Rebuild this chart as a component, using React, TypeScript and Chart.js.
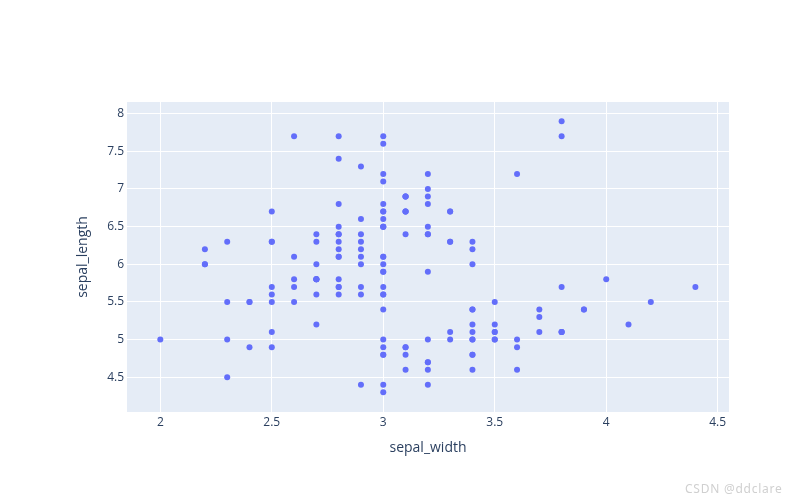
import React, { useEffect, useRef } from "react";
import { Chart, registerables } from "chart.js";

Chart.register(...registerables);

// Iris dataset: sepal width (x) and sepal length (y)
const sepalWidth: number[] = [
  3.5, 3.0, 3.2, 3.1, 3.6, 3.9, 3.4, 3.4, 2.9, 3.1, 3.7, 3.4, 3.0, 3.0, 4.0, 4.4, 3.9, 3.5, 3.8, 3.8,
  3.4, 3.7, 3.6, 3.3, 3.4, 3.0, 3.4, 3.5, 3.4, 3.2, 3.1, 3.4, 4.1, 4.2, 3.1, 3.2, 3.5, 3.6, 3.0, 3.4,
  3.5, 2.3, 3.2, 3.5, 3.8, 3.0, 3.8, 3.2, 3.7, 3.3,
  3.2, 3.2, 3.1, 2.3, 2.8, 2.8, 3.3, 2.4, 2.9, 2.7, 2.0, 3.0, 2.2, 2.9, 2.9, 3.1, 3.0, 2.7, 2.2, 2.5,
  3.2, 2.8, 2.5, 2.8, 2.9, 3.0, 2.8, 3.0, 2.9, 2.6, 2.4, 2.4, 2.7, 2.7, 3.0, 3.4, 3.1, 2.3, 3.0, 2.5,
  2.6, 3.0, 2.6, 2.3, 2.7, 3.0, 2.9, 2.9, 2.5, 2.8,
  3.3, 2.7, 3.0, 2.9, 3.0, 3.0, 2.5, 2.9, 2.5, 3.6, 3.2, 2.7, 3.0, 2.5, 2.8, 3.2, 3.0, 3.8, 2.6, 2.2,
  3.2, 2.8, 2.8, 2.7, 3.3, 3.2, 2.8, 3.0, 2.8, 3.0, 2.8, 3.8, 2.8, 2.8, 2.6, 3.0, 3.4, 3.1, 3.0, 3.1,
  3.1, 3.1, 2.7, 3.2, 3.3, 3.0, 2.5, 3.0, 3.4, 3.0,
];
const sepalLength: number[] = [
  5.1, 4.9, 4.7, 4.6, 5.0, 5.4, 4.6, 5.0, 4.4, 4.9, 5.4, 4.8, 4.8, 4.3, 5.8, 5.7, 5.4, 5.1, 5.7, 5.1,
  5.4, 5.1, 4.6, 5.1, 4.8, 5.0, 5.0, 5.2, 5.2, 4.7, 4.8, 5.4, 5.2, 5.5, 4.9, 5.0, 5.5, 4.9, 4.4, 5.1,
  5.0, 4.5, 4.4, 5.0, 5.1, 4.8, 5.1, 4.6, 5.3, 5.0,
  7.0, 6.4, 6.9, 5.5, 6.5, 5.7, 6.3, 4.9, 6.6, 5.2, 5.0, 5.9, 6.0, 6.1, 5.6, 6.7, 5.6, 5.8, 6.2, 5.6,
  5.9, 6.1, 6.3, 6.1, 6.4, 6.6, 6.8, 6.7, 6.0, 5.7, 5.5, 5.5, 5.8, 6.0, 5.4, 6.0, 6.7, 6.3, 5.6, 5.5,
  5.5, 6.1, 5.8, 5.0, 5.6, 5.7, 5.7, 6.2, 5.1, 5.7,
  6.3, 5.8, 7.1, 6.3, 6.5, 7.6, 4.9, 7.3, 6.7, 7.2, 6.5, 6.4, 6.8, 5.7, 5.8, 6.4, 6.5, 7.7, 7.7, 6.0,
  6.9, 5.6, 7.7, 6.3, 6.7, 7.2, 6.2, 6.1, 6.4, 7.2, 7.4, 7.9, 6.4, 6.3, 6.1, 7.7, 6.3, 6.4, 6.0, 6.9,
  6.7, 6.9, 5.8, 6.8, 6.7, 6.7, 6.3, 6.5, 6.2, 5.9,
];

const xTicks: number[] = [2, 2.5, 3, 3.5, 4, 4.5];
const yTicks: number[] = [4.5, 5, 5.5, 6, 6.5, 7, 7.5, 8];
const xRange: number[] = [1.8506, 4.5507];
const yRange: number[] = [4.039, 8.155];
const xTitle = "sepal_width";
const yTitle = "sepal_length";
const watermark = "CSDN @ddclare";

const FONT = '"Open Sans", verdana, arial, sans-serif';
const TEXT_COLOR = "#2a3f5f";

const bgPlugin = {
  id: "plotBg",
  beforeDraw(chart: any) {
    const { ctx, chartArea } = chart;
    if (!chartArea) return;
    ctx.save();
    ctx.fillStyle = "#E5ECF6";
    ctx.fillRect(chartArea.left, chartArea.top, chartArea.right - chartArea.left, chartArea.bottom - chartArea.top);
    ctx.restore();
  },
};

export default function App() {
  const canvasRef = useRef<HTMLCanvasElement | null>(null);

  useEffect(() => {
    document.body.style.margin = "0";
    const canvas = canvasRef.current;
    if (!canvas) return;
    const points = sepalWidth.map((x, i) => ({ x, y: sepalLength[i] }));
    const chart = new Chart(canvas, {
      type: "scatter",
      data: {
        datasets: [
          {
            data: points,
            pointRadius: 3,
            pointHoverRadius: 3,
            pointBackgroundColor: "#636efa",
            pointBorderWidth: 0,
            backgroundColor: "#636efa",
            borderWidth: 0,
          },
        ],
      },
      options: {
        responsive: false,
        animation: false,
        devicePixelRatio: 1,
        layout: { padding: { top: 102, right: 61, left: 0, bottom: 0 } },
        plugins: { legend: { display: false }, tooltip: { enabled: false } },
        scales: {
          x: {
            type: "linear",
            min: xRange[0],
            max: xRange[1],
            afterFit: (s: any) => {
              s.height = 90;
            },
            afterBuildTicks: (s: any) => {
              s.ticks = xTicks.map((v) => ({ value: v }));
            },
            grid: { color: "#ffffff", lineWidth: 1, drawTicks: false },
            border: { display: false },
            ticks: {
              padding: 3,
              color: TEXT_COLOR,
              font: { family: FONT, size: 12 },
              callback: (v: any) => String(v),
            },
            title: {
              display: true,
              text: xTitle,
              color: TEXT_COLOR,
              font: { family: FONT, size: 14 },
              padding: { top: 0, bottom: 45.6 },
            },
          },
          y: {
            type: "linear",
            min: yRange[0],
            max: yRange[1],
            afterFit: (s: any) => {
              s.width = 127;
            },
            afterBuildTicks: (s: any) => {
              s.ticks = yTicks.map((v) => ({ value: v }));
            },
            grid: { color: "#ffffff", lineWidth: 1, drawTicks: false },
            border: { display: false },
            ticks: {
              padding: 3,
              color: TEXT_COLOR,
              font: { family: FONT, size: 12 },
              callback: (v: any) => String(v),
            },
            title: {
              display: true,
              text: yTitle,
              color: TEXT_COLOR,
              font: { family: FONT, size: 14 },
              padding: { top: 74.6, bottom: 0 },
            },
          },
        },
      },
      plugins: [bgPlugin],
    });
    return () => chart.destroy();
  }, []);

  return (
    <div style={{ position: "absolute", left: 0, top: 0, width: 790, height: 502, background: "#fff" }}>
      <canvas ref={canvasRef} width={790} height={502} style={{ display: "block" }} />
      <div
        style={{
          position: "absolute",
          left: 685,
          top: 483,
          fontFamily: '"Noto Sans", sans-serif',
          fontSize: 12,
          lineHeight: 1,
          letterSpacing: "0.75px",
          color: "#d0d0d0",
          whiteSpace: "nowrap",
        }}
      >
        {watermark}
      </div>
    </div>
  );
}
